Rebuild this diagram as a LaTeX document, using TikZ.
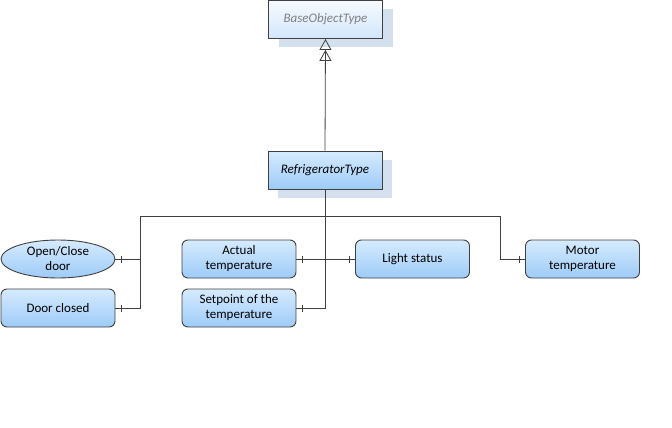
\documentclass[tikz,border=0pt]{standalone}
\usepackage{fontspec}
\setmainfont{Carlito}
\usetikzlibrary{shapes.geometric, arrows.meta, shadows, decorations.markings}

\definecolor{boxtop}{HTML}{D6EBFE}
\definecolor{boxbot}{HTML}{9DCBF8}
\definecolor{basetop}{HTML}{F6FAFF}
\definecolor{basebot}{HTML}{D2E6FB}
\definecolor{shadowblue}{HTML}{D5E0EE}
\definecolor{edgegray}{HTML}{404040}

\tikzset{
  typebox/.style = {draw=edgegray, line width=0.9pt, rectangle, minimum width=114pt, minimum height=38pt,
                    inner sep=0pt, font=\fontsize{13}{15}\selectfont\itshape,
                    general shadow={fill=shadowblue, shadow xshift=10pt, shadow yshift=-9pt}},
  varbox/.style  = {draw=edgegray, line width=0.9pt, rectangle, rounded corners=6pt, minimum width=114pt,
                    minimum height=38pt, inner sep=0pt, align=center, top color=boxtop, bottom color=boxbot,
                    font=\fontsize{13}{15}\selectfont},
  methnode/.style= {varbox, ellipse, rounded corners=0pt},
  link/.style    = {draw=edgegray, line width=0.8pt},
  tickend/.style = {postaction={decorate, decoration={markings,
                    mark=at position 1 with {\draw[link] (-6pt,-3.5pt) -- (-6pt,3.5pt);}}}},
  tickstart/.style = {postaction={decorate, decoration={markings,
                    mark=at position 0 with {\draw[link] (6pt,-3.5pt) -- (6pt,3.5pt);}}}}
}

\begin{document}
\begin{tikzpicture}[x=1pt, y=-1pt]
\useasboundingbox (0,0) rectangle (672,428);

\node[typebox, top color=basetop, bottom color=basebot, text=gray]	(base)	at (325.5,19.5)	{BaseObjectType};
\node[typebox, top color=boxtop, bottom color=boxbot]			(refr)	at (325,170)	{RefrigeratorType};

\node[methnode]	(door)	at (58,259)		{Open/Close\\door};
\node[varbox]		(closed)	at (58,308)		{Door closed};
\node[varbox]		(actual)	at (239,259)	{Actual\\temperature};
\node[varbox]		(setp)	at (239,308)	{Setpoint of the\\temperature};
\node[varbox]		(light)	at (412.5,259)	{Light status};
\node[varbox]		(motor)	at (582.5,259)	{Motor\\temperature};

\coordinate (busl) at (140,216);
\coordinate (busr) at (500,216);

% inheritance
\draw[link, -{Triangle[open, length=11pt, width=12pt, sep=0pt] Triangle[open, length=11pt, width=12pt]}]
	(refr.north) -- (base.south);

% components
\draw[link] (busl) -- (busr);
\draw[link, tickend]	(refr.south) -- (refr.south |- setp.east) -- (setp.east);
\draw[link, tickend]	(busl) -- (busl |- closed.east) -- (closed.east);
\draw[link, tickend]	(busl |- door.east) -- (door.east);
\draw[link, tickend]	(busr) -- (busr |- motor.west) -- (motor.west);
\draw[link, tickstart, tickend]	(actual.east) -- (light.west);
\end{tikzpicture}
\end{document}
